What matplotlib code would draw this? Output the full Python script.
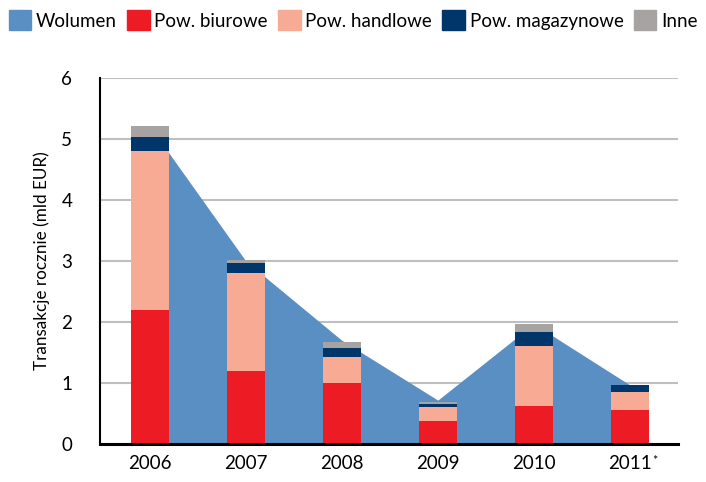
import matplotlib
matplotlib.use("Agg")
from matplotlib import pyplot as plt
from matplotlib.patches import Patch
import numpy as np

plt.rcParams['font.family'] = ['Lato', 'DejaVu Sans']

years = ['2006', '2007', '2008', '2009', '2010', '2011']
wolumen = [5.21, 3.0, 1.7, 0.72, 1.97, 0.97]
biurowe = [2.2, 1.2, 1.0, 0.37, 0.63, 0.55]
handlowe = [2.61, 1.6, 0.43, 0.24, 0.98, 0.30]
magazynowe = [0.22, 0.17, 0.14, 0.05, 0.22, 0.11]
inne = [0.18, 0.05, 0.11, 0.03, 0.14, 0.0]

c_wol = '#5A8FC3'
c_biu = '#ED1C24'
c_han = '#F7AA94'
c_mag = '#00366A'
c_inn = '#A7A3A2'

fig = plt.figure(figsize=(7.06, 4.82), dpi=100)
ax = fig.add_axes([0.1416, 0.0788, 0.8184, 0.7592])

x = np.arange(len(years))
ax.fill_between(x, 0, wolumen, color=c_wol, linewidth=0, zorder=2)

w = 0.4
b1 = np.array(biurowe)
b2 = b1 + np.array(handlowe)
b3 = b2 + np.array(magazynowe)
ax.bar(x, biurowe, w, color=c_biu, zorder=3)
ax.bar(x, handlowe, w, bottom=b1, color=c_han, zorder=3)
ax.bar(x, magazynowe, w, bottom=b2, color=c_mag, zorder=3)
ax.bar(x, inne, w, bottom=b3, color=c_inn, zorder=3)

ax.set_xlim(-0.52, 5.5)
ax.set_ylim(0, 6)
ax.set_yticks(range(7))
ax.yaxis.grid(True, color='#BFBFBF', linewidth=1.5, zorder=1)
ax.set_axisbelow(True)
ax.set_xticks(x)
ax.set_xticklabels(years)
ax.tick_params(axis='both', length=0, labelsize=13.5, colors='black')
ax.tick_params(axis='y', pad=20)
ax.tick_params(axis='x', pad=8)
# asterisk next to last year
ax.annotate('*', xy=(x[-1], 0), xycoords='data', xytext=(16, -12),
            textcoords='offset points', fontsize=9, ha='left', va='center')
for s in ['top', 'right']:
    ax.spines[s].set_visible(False)
ax.spines['left'].set_linewidth(1.5)
ax.spines['bottom'].set_linewidth(2.2)
ax.spines['bottom'].set_zorder(5)
ax.set_ylabel('Transakcje rocznie (mld EUR)', fontsize=12.3, labelpad=8)

handles = [Patch(color=c_wol), Patch(color=c_biu), Patch(color=c_han),
           Patch(color=c_mag), Patch(color=c_inn)]
labels = ['Wolumen', 'Pow. biurowe', 'Pow. handlowe', 'Pow. magazynowe', 'Inne']
fig.legend(handles, labels, loc='center', bbox_to_anchor=(0.5, 0.958), ncol=5,
           frameon=False, fontsize=13.5, handlelength=1.2, handleheight=1.3,
           handletextpad=0.25, columnspacing=0.55, borderaxespad=0)

fig.savefig('out.png', dpi=100)
